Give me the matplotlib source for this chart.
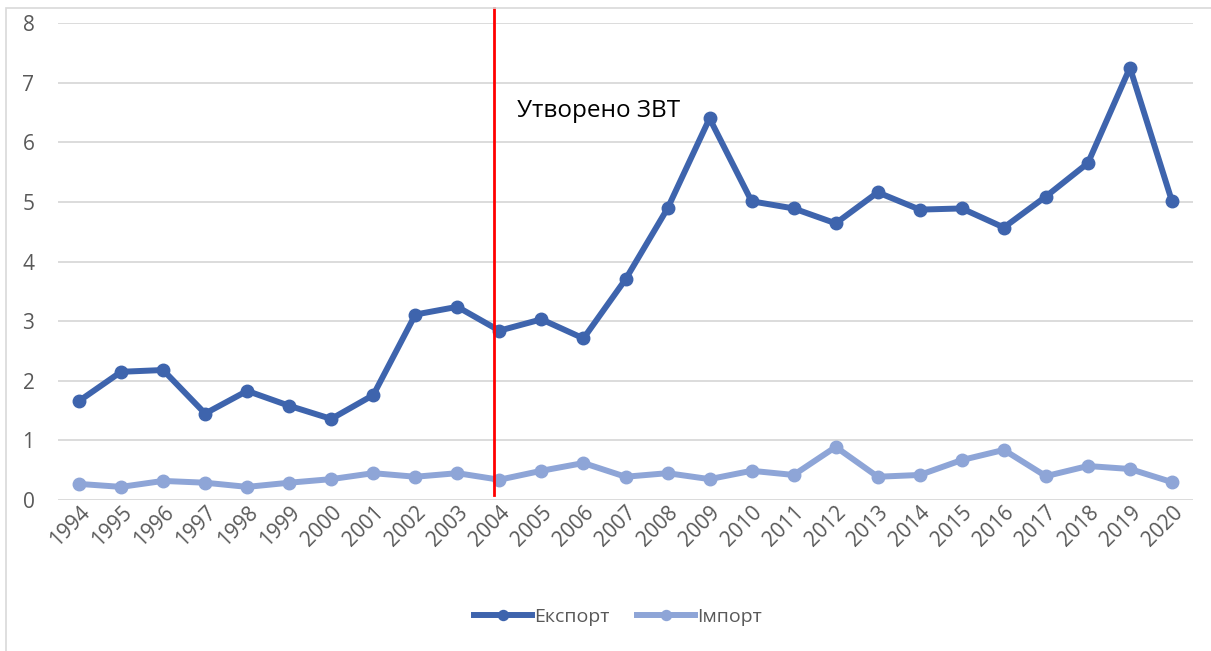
import matplotlib
matplotlib.use("Agg")
import matplotlib.pyplot as plt
import matplotlib.transforms as mtransforms
from matplotlib.patches import Rectangle

plt.rcParams['font.family'] = ['Open Sans', 'DejaVu Sans']

years = [str(y) for y in range(1994, 2021)]
eksport = [1.66, 2.15, 2.18, 1.45, 1.83, 1.58, 1.36, 1.76, 3.11, 3.24,
           2.84, 3.03, 2.71, 3.70, 4.89, 6.40, 5.01, 4.89, 4.64, 5.16,
           4.87, 4.89, 4.57, 5.09, 5.65, 7.25, 5.01]
import_ = [0.27, 0.22, 0.32, 0.29, 0.22, 0.29, 0.35, 0.45, 0.39, 0.45,
           0.34, 0.49, 0.62, 0.39, 0.45, 0.35, 0.49, 0.42, 0.89, 0.39,
           0.42, 0.67, 0.84, 0.40, 0.57, 0.52, 0.30]
zvt_pos = 9.88  # червона лінія трохи лівіше 2004
zvt_label = "Утворено ЗВТ"

W, H = 1211, 651
fig = plt.figure(figsize=(W / 100, H / 100), dpi=100)
fig.patches.append(Rectangle((6 / W, -0.1), 1.2, 1 - 8 / H + 0.1,
                             transform=fig.transFigure, fill=False,
                             edgecolor="#d9d9d9", linewidth=1.2))

ax = fig.add_axes([58 / W, 1 - 500 / H, (1193 - 58) / W, (500 - 23) / H])
x = list(range(len(years)))

ax.plot(x, eksport, color="#3e64ad", lw=4.3, marker="o", ms=9,
        solid_joinstyle="round", label="Експорт", zorder=3)
ax.plot(x, import_, color="#8ea5d7", lw=4.3, marker="o", ms=9,
        solid_joinstyle="round", label="Імпорт", zorder=3)

trans = mtransforms.blended_transform_factory(ax.transData, ax.transAxes)
ax.plot([zvt_pos, zvt_pos], [1.031, 0.01], color="#ff0000", lw=2,
        transform=trans, clip_on=False, zorder=4)
ax.text(10.43, 6.43, zvt_label, fontsize=17.5, va="baseline", ha="left",
        color="black")

ax.set_xlim(-0.5, len(years) - 0.5)
ax.set_ylim(0, 8)
ax.set_yticks(range(0, 9))
ax.grid(axis="y", color="#d9d9d9", lw=1.3)
ax.set_axisbelow(True)
for s in ax.spines.values():
    s.set_visible(False)
ax.tick_params(length=0, labelsize=15, labelcolor="#595959")
ax.tick_params(axis="y", pad=17)
ax.set_xticks(x)
ax.set_xticklabels(years, rotation=45, ha="right", va="top",
                   rotation_mode="anchor")
off = mtransforms.ScaledTranslation(0, 3 / 100, fig.dpi_scale_trans)
for lab in ax.get_xticklabels():
    lab.set_transform(lab.get_transform() + off)

fig.legend(loc="center", bbox_to_anchor=(0.51, 1 - 617 / H), ncol=2,
           frameon=False, fontsize=14, handlelength=3.0, handletextpad=0.1,
           columnspacing=1.4, labelcolor="#595959", markerscale=0.8)

fig.savefig("out.png", dpi=100)
